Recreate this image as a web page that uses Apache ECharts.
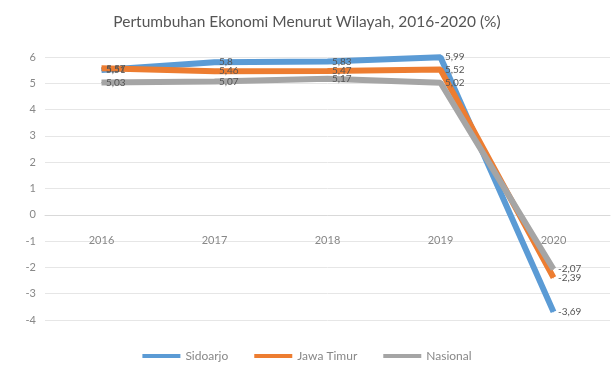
<!DOCTYPE html>
<html>
<head>
<meta charset="utf-8">
<script src="https://cdn.jsdelivr.net/npm/echarts@6/dist/echarts.min.js"></script>
<style>html,body{margin:0;padding:0;background:#fff;}#c{width:614px;height:387px;}</style>
</head>
<body>
<div id="c"></div>
<script>
var categories = ['2016', '2017', '2018', '2019', '2020'];
var sidoarjo = [5.51, 5.80, 5.83, 5.99, -3.69];
var jawaTimur = [5.57, 5.46, 5.47, 5.52, -2.39];
var nasional = [5.03, 5.07, 5.17, 5.02, -2.07];
var yTicks = { min: -4, max: 6, interval: 1 };

var gridTop = 57, gridHeight = 263;
var zeroOffset = -gridHeight * (0 - yTicks.min) / (yTicks.max - yTicks.min);

var chart = echarts.init(document.getElementById('c'));
function mk(name, data, color) {
  return {
    name: name, type: 'line', data: data, symbol: 'circle', symbolSize: 1, showSymbol: true,
    lineStyle: { width: 6, color: color }, itemStyle: { color: color },
    label: { show: true, position: 'right', distance: 4, fontSize: 10, color: '#555',
      fontFamily: 'Lato', formatter: function (p) { return String(p.value).replace('.', ','); } },
    labelLayout: { hideOverlap: false }
  };
}
chart.setOption({
  animation: false,
  textStyle: { fontFamily: 'Lato' },
  title: { text: 'Pertumbuhan Ekonomi Menurut Wilayah, 2016-2020 (%)', left: 'center', top: 9,
    textStyle: { fontSize: 15.5, fontWeight: 'normal', color: '#555', fontFamily: 'Lato' } },
  legend: { bottom: 20, left: 'center', itemWidth: 38, itemHeight: 4, itemGap: 26, icon: 'rect',
    textStyle: { color: '#888', fontSize: 12 } },
  grid: { left: 45, right: 4, top: gridTop, height: gridHeight, containLabel: false },
  xAxis: { type: 'category', data: categories, boundaryGap: true, position: 'bottom', offset: zeroOffset,
    axisLine: { show: true, onZero: false, lineStyle: { color: '#d9d9d9' } }, axisTick: { show: false },
    axisLabel: { color: '#888', fontSize: 11, margin: 20 } },
  yAxis: { type: 'value', min: yTicks.min, max: yTicks.max, interval: yTicks.interval,
    axisLine: { show: false }, axisTick: { show: false },
    axisLabel: { color: '#888', fontSize: 11, margin: 9 },
    splitLine: { lineStyle: { color: '#e6e6e6' } } },
  series: [mk('Sidoarjo', sidoarjo, '#5b9bd5'), mk('Jawa Timur', jawaTimur, '#ed7d31'), mk('Nasional', nasional, '#a5a5a5')]
});
</script>
</body>
</html>
